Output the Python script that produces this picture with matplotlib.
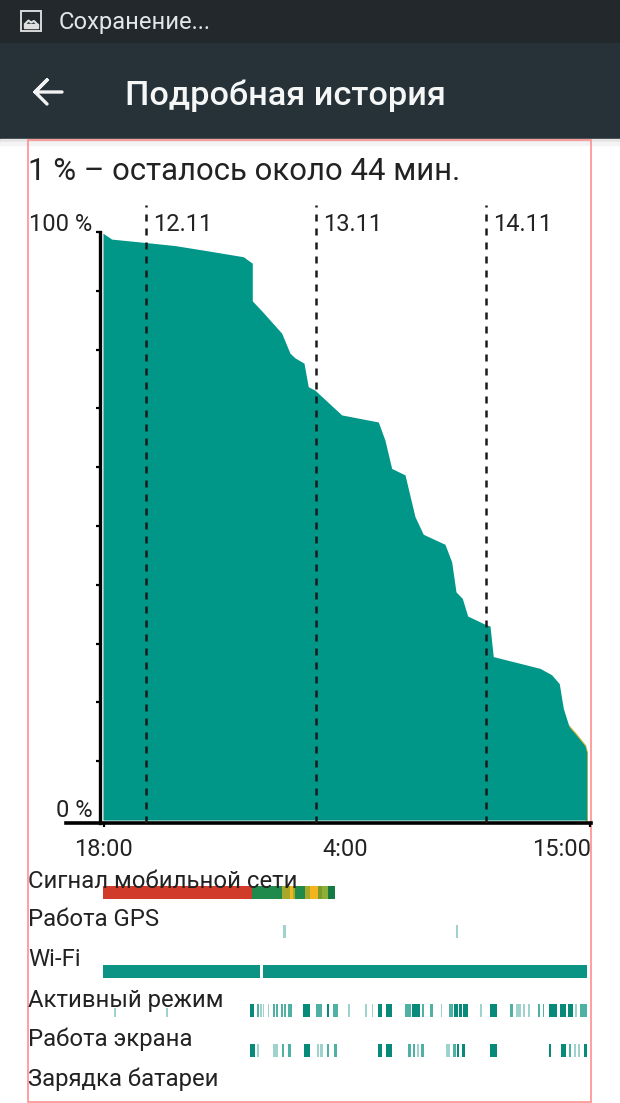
import matplotlib
matplotlib.use('Agg')
import matplotlib.pyplot as plt
from matplotlib.patches import Rectangle

plt.rcParams['font.family'] = ['Roboto', 'DejaVu Sans']

W, H = 620, 1103

# ── Battery curve: hours since 18:00, charge in percent ──
HOURS = [0, 1.23, 6.17, 10.16, 14.82, 19.81, 21.08, 21.08, 22.41, 23.82, 25.23, 26.40,
         27.11, 28.38, 28.98, 29.93, 33.70, 38.87, 39.81, 40.76, 42.64, 44.05, 45.22,
         48.28, 49.23, 49.84, 50.73, 51.49, 53.93, 54.64, 55.10, 61.70, 63.35, 64.42,
         64.99, 65.83, 66.64, 68.05, 68.29, 68.29]
CHARGE = [99.8, 98.8, 98.2, 97.7, 96.8, 95.8, 94.7, 88.3, 86.6, 84.7, 82.8, 79.4,
          78.6, 77.7, 73.7, 73.1, 68.9, 67.7, 64.6, 59.8, 58.7, 51.6, 48.6,
          46.9, 43.9, 38.8, 37.7, 34.7, 33.3, 33.0, 27.8, 25.8, 24.7, 23.2,
          19.0, 15.8, 14.7, 12.6, 11.5, 0]

DATE_HOURS = [6.07, 30.07, 54.07]
DATE_LABELS = ['12.11', '13.11', '14.11']
TIME_HOURS = [0.1, 34.2, 68.9]
TIME_LABELS = ['18:00', '4:00', '15:00']
PCT_TICKS = list(range(10, 101, 10))

ROW_LABELS = ['Сигнал мобильной сети', 'Работа GPS', 'Wi-Fi',
              'Активный режим', 'Работа экрана', 'Зарядка батареи']

# ── Status strips: (start, end) in hours ──
SIGNAL = [(0, 21.04), (21.04, 25.27), (25.27, 26.40), (26.40, 26.82), (26.82, 27.11),
          (27.11, 28.52), (28.52, 29.22), (29.22, 30.35), (30.35, 30.92),
          (30.92, 31.77), (31.77, 32.75)]
SIGNAL_COLORS = ['#d03b2a', '#1f8a4c', '#a8a82a', '#f2b51d', '#a8a82a',
                 '#1f8a4c', '#a8a82a', '#f2b51d', '#7a9a2e', '#8fae35', '#167a45']
GPS = [(25.41, 25.84), (49.84, 50.12)]
WIFI = [(0, 22.17), (22.59, 68.33)]

ACTIVE_DARK = [(20.75, 21.36), (28.28, 29.22), (31.67, 31.95), (38.82, 39.43), (39.91, 40.76),
               (43.58, 44.29), (44.37, 44.75), (49.55, 50.12), (50.26, 50.69), (50.83, 51.49),
               (54.64, 55.58), (62.97, 64.05), (64.52, 65.32), (65.69, 66.31)]
ACTIVE_MID = [(21.70, 21.98), (23.96, 24.28), (24.42, 24.66), (25.13, 25.41), (25.55, 25.84),
              (26.16, 26.64), (30.07, 30.88), (32.43, 33.13), (42.64, 43.44), (44.99, 45.32),
              (46.17, 46.63), (48.89, 49.41), (57.46, 57.92), (61.41, 61.70), (62.08, 62.30),
              (67.34, 68.29)]
ACTIVE_LIGHT = [(22.17, 22.41), (22.63, 22.77), (23.25, 23.44), (34.55, 34.87), (36.99, 37.27),
                (37.93, 38.16), (47.72, 47.90), (53.22, 53.46), (58.26, 58.97), (59.25, 59.58),
                (60.04, 60.28), (66.64, 66.88)]
ACTIVE_FAINT = [(1.55, 1.84), (8.89, 9.18)]

SCREEN_DARK = [(20.75, 21.50), (28.38, 29.22), (38.82, 39.35), (39.91, 40.76), (49.93, 50.30),
               (50.73, 51.15), (54.64, 55.58), (62.97, 63.20), (64.62, 65.32), (67.91, 68.29)]
SCREEN_MID = [(25.23, 25.55), (26.16, 26.50), (31.67, 31.95), (32.65, 33.08), (43.10, 43.48),
              (43.72, 44.05), (44.90, 45.32), (49.37, 49.84), (65.79, 66.07)]
SCREEN_LIGHT = [(21.78, 22.07), (24.04, 24.66), (30.26, 30.45), (30.68, 31.10), (44.29, 44.61),
                (48.42, 48.99), (66.50, 66.73), (67.10, 67.34)]

TEAL = '#009688'
BAR_TEAL = '#0b9484'
DARK = '#078a7a'
MID = '#4fb0a4'
LIGHT = '#9dd3cc'
TEXT = '#222222'


def spans(pairs):
    return [(a, b - a) for a, b in pairs]


fig = plt.figure(figsize=(W / 100, H / 100), dpi=100, facecolor='white')

# ── Screen chrome, in pixel coordinates ──
bg = fig.add_axes([0, 0, 1, 1])
bg.set_xlim(0, W)
bg.set_ylim(H, 0)
bg.axis('off')
bg.add_patch(Rectangle((0, 0), W, 43, color='#22282c'))
bg.add_patch(Rectangle((0, 43), W, 96, color='#263238'))
bg.add_patch(Rectangle((0, 139), W, 3, color='#e4e4e4'))
bg.add_patch(Rectangle((0, 142), W, 3, color='#f4f4f4'))
bg.add_patch(Rectangle((21, 11), 20, 20, fc='#22282c', ec='#d8d8d8', lw=1.4))
bg.add_patch(Rectangle((24, 24), 14, 4, color='#e0e0e0'))
bg.plot([25, 28.5, 31, 34, 37], [24, 20.5, 22.5, 21, 24], color='#e0e0e0', lw=1.5)
bg.plot([62, 35, 47, 35, 47], [92, 92, 80, 92, 104], color='#f2f2f2', lw=2.4,
        solid_joinstyle='round', solid_capstyle='round')
bg.text(59, 22, 'Сохранение...', color='#e4e6e7', fontsize=17.1, va='center', ha='left')
bg.text(125, 96, 'Подробная история', color='#f5f6f6', fontsize=24.7, va='center',
        ha='left', fontweight='medium')
bg.add_patch(Rectangle((28, 140), 563, 962, fc='none', ec='#ff8f8f', lw=1.2))
bg.text(28, 172, '1 % – осталось около 44 мин.', color=TEXT, fontsize=22.4,
        va='center', ha='left')

# ── Battery chart ──
x0 = 66 / W
x1 = 591 / W
ax = fig.add_axes([x0, 1 - 823 / H, x1 - x0, (823 - 205) / H])
ax.patch.set_alpha(0)
ax.set_xlim(-5.22, 68.9)
ax.set_ylim(-0.5, 104.6)
ax.plot(HOURS[-5:], CHARGE[-5:], color='#c9b23a', lw=1.8, zorder=1.5)
ax.fill_between(HOURS, CHARGE, 0, color=TEAL, lw=0, zorder=2)
for h, lab in zip(DATE_HOURS, DATE_LABELS):
    ax.axvline(h, color='#1a1a1a', lw=1.8, ls=(0, (2.8, 2.8)), zorder=3)
    ax.text(h + 1.05, 101.2, lab, fontsize=17, color=TEXT, va='center', ha='left')

for name in ['top', 'right']:
    ax.spines[name].set_visible(False)
ax.spines['left'].set_position(('data', -0.42))
ax.spines['left'].set_linewidth(2.4)
ax.spines['left'].set_bounds(-0.5, 100)
ax.spines['bottom'].set_linewidth(2.6)
ax.set_yticks(PCT_TICKS)
ax.set_yticklabels([])
ax.tick_params(axis='y', length=3, width=1.6, direction='out')
ax.set_xticks([0.1, 68.8])
ax.set_xticklabels([])
ax.tick_params(axis='x', length=3, width=1.6, direction='out')
for h, lab in zip(TIME_HOURS, TIME_LABELS):
    ha = 'right' if lab == '15:00' else 'center'
    ax.annotate(lab, (h, 0), xytext=(0, -19),
                xycoords=('data', 'axes fraction'), textcoords='offset points',
                fontsize=17, color=TEXT, ha=ha, va='center')
ax.text(-1.55, 101.2, '100 %', fontsize=17, color=TEXT, ha='right', va='center')
ax.text(-1.5, 1.6, '0 %', fontsize=17, color=TEXT, ha='right', va='center')

# ── Status strips ──
st = fig.add_axes([x0, 1 - 1070 / H, x1 - x0, (1070 - 860) / H])
st.patch.set_alpha(0)
st.set_xlim(-5.22, 68.9)
st.set_ylim(1070, 860)
st.axis('off')
st.broken_barh(spans(SIGNAL), (886, 13), facecolors=SIGNAL_COLORS, lw=0)
st.broken_barh(spans(GPS), (925, 13), facecolors=LIGHT, lw=0)
st.broken_barh(spans(WIFI), (965, 13), facecolors=BAR_TEAL, lw=0)
st.broken_barh(spans(ACTIVE_DARK), (1004, 13), facecolors=DARK, lw=0)
st.broken_barh(spans(ACTIVE_MID), (1004, 13), facecolors=MID, lw=0)
st.broken_barh(spans(ACTIVE_LIGHT), (1004, 13), facecolors=LIGHT, lw=0)
st.broken_barh(spans(ACTIVE_FAINT), (1008, 9), facecolors=LIGHT, lw=0)
st.broken_barh(spans(SCREEN_DARK), (1044, 13), facecolors=DARK, lw=0)
st.broken_barh(spans(SCREEN_MID), (1044, 13), facecolors=MID, lw=0)
st.broken_barh(spans(SCREEN_LIGHT), (1044, 13), facecolors=LIGHT, lw=0)

for lab, y in zip(ROW_LABELS, [881, 920, 960, 1000, 1039, 1079]):
    fig.text(28 / W, 1 - y / H, lab, fontsize=17.2, color=TEXT, va='center', ha='left', zorder=5)

fig.savefig('out.png', dpi=100)
plt.close(fig)
